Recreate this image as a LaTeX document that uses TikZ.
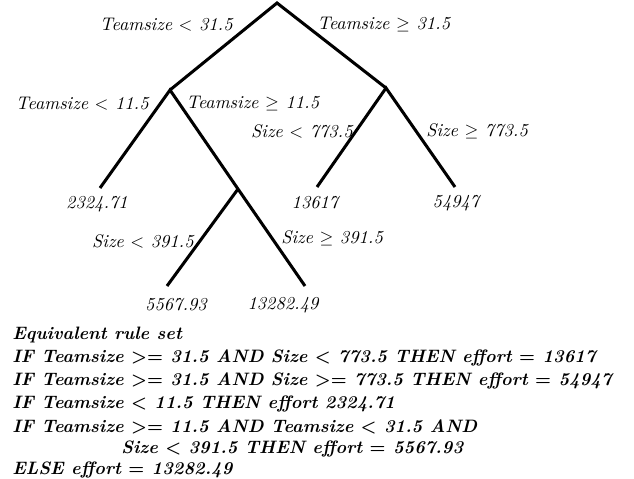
\documentclass[tikz,border=0pt]{standalone}
\usepackage{amsmath}
\begin{document}
\begin{tikzpicture}[x=0.562pt,y=-0.562pt,
  branch/.style={line width=1.7pt,line cap=butt},
  cond/.style={inner sep=0pt,font=\fontsize{10.25}{12}\selectfont\itshape},
  leaf/.style={inner sep=0pt,font=\fontsize{10.25}{12}\selectfont\itshape},
  rule/.style={inner sep=0pt,anchor=west,font=\fontsize{10.1}{12}\selectfont\bfseries\itshape\boldmath}]
\useasboundingbox (0,0) rectangle (634,478);
% split points and leaf ends
\coordinate (root) at (277,3);
\coordinate (n1) at (170,90);
\coordinate (n2) at (386,88);
\coordinate (n3) at (238,189);
\coordinate (e1) at (100,188);
\coordinate (e2) at (317,187);
\coordinate (e3) at (455,187);
\coordinate (e4) at (167,286);
\coordinate (e5) at (305,286);
% branches
\draw[branch] (n1) -- (root) -- (n2);
\draw[branch] (e1) -- (n1) -- (n3) -- (e5);
\draw[branch] (e2) -- (n2) -- (e3);
\draw[branch] (e4) -- (n3);
% split conditions
\node[cond,anchor=east] (c1) at (233,25) {Teamsize $<$ 31.5};
\node[cond,anchor=west] (c2) at (317,25) {Teamsize $\geq$ 31.5};
\node[cond,anchor=east] (c3) at (149,104) {Teamsize $<$ 11.5};
\node[cond,anchor=west] (c4) at (186,104) {Teamsize $\geq$ 11.5};
\node[cond,anchor=east] (c5) at (353,131) {Size $<$ 773.5};
\node[cond,anchor=west] (c6) at (426,131) {Size $\geq$ 773.5};
\node[cond,anchor=east] (c7) at (194,241) {Size $<$ 391.5};
\node[cond,anchor=west] (c8) at (281,238) {Size $\geq$ 391.5};
% leaf values
\node[leaf] (v1) at (97,204) {2324.71};
\node[leaf] (v2) at (315,203) {13617};
\node[leaf] (v3) at (456,203) {54947};
\node[leaf] (v4) at (176,305) {5567.93};
\node[leaf] (v5) at (283,305) {13282.49};
% rule set
\node[rule] (r0) at (12,335) {Equivalent rule set};
\node[rule] (r1) at (12,358) {IF Teamsize $>=$ 31.5 AND Size $<$ 773.5 THEN effort $=$ 13617};
\node[rule] (r2) at (12,381) {IF Teamsize $>=$ 31.5 AND Size $>=$ 773.5 THEN effort $=$ 54947};
\node[rule] (r3) at (12,404) {IF Teamsize $<$ 11.5 THEN effort 2324.71};
\node[rule] (r4) at (12,427) {IF Teamsize $>=$ 11.5 AND Teamsize $<$ 31.5 AND};
\node[rule] (r5) at (121,449) {Size $<$ 391.5 THEN effort $=$ 5567.93};
\node[rule] (r6) at (12,470) {ELSE effort $=$ 13282.49};
\end{tikzpicture}
\end{document}
